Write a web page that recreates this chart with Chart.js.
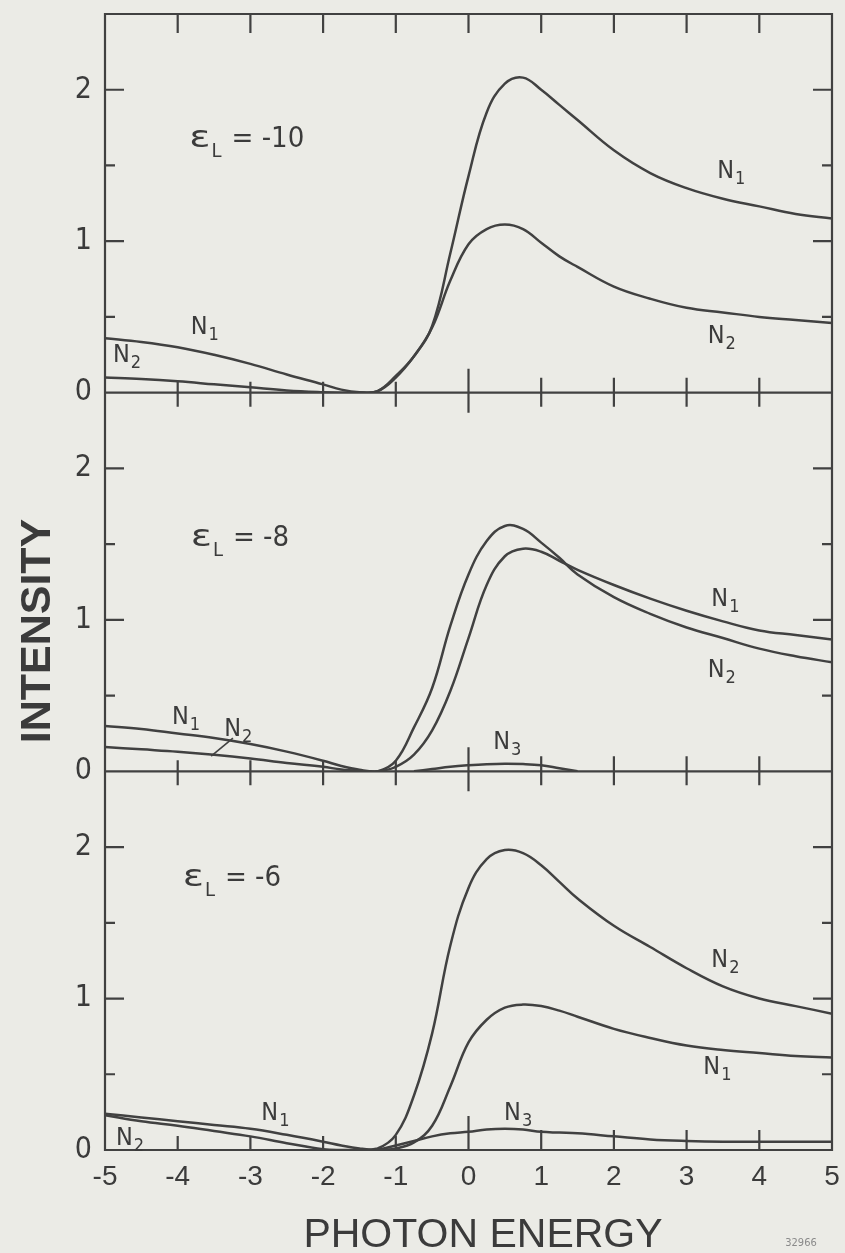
<!DOCTYPE html>
<html>
<head>
<meta charset="utf-8">
<script src="https://cdn.jsdelivr.net/npm/chart.js@4.4.1/dist/chart.umd.min.js"></script>
<style>
  html, body { margin: 0; padding: 0; background: #ebebe6; }
  #wrap { position: relative; width: 845px; height: 1253px; }
  canvas { display: block; }
</style>
</head>
<body>
<div id="wrap"><canvas id="c" width="845" height="1253"></canvas></div>
<script>
// ---------------- data ----------------
const energy = [-5, -4.5, -4, -3.5, -3, -2.5, -2, -1.75, -1.5, -1.25, -1, -0.75, -0.5, -0.25, 0, 0.25, 0.5, 0.75, 1, 1.25, 1.5, 2, 2.5, 3, 3.5, 4, 4.5, 5];

// panel eps_L = -10
const topN1 = [0.36, 0.335, 0.30, 0.25, 0.19, 0.12, 0.055, 0.02, 0.003, 0.01, 0.11, 0.24, 0.44, 0.92, 1.43, 1.85, 2.04, 2.08, 2.00, 1.90, 1.80, 1.60, 1.45, 1.35, 1.28, 1.23, 1.18, 1.15];
const topN2 = [0.10, 0.09, 0.075, 0.055, 0.035, 0.015, 0.003, 0.0, 0.0, 0.01, 0.10, 0.24, 0.43, 0.74, 0.98, 1.08, 1.11, 1.08, 0.99, 0.90, 0.83, 0.70, 0.62, 0.56, 0.53, 0.50, 0.48, 0.46];

// panel eps_L = -8
const midN1 = [0.30, 0.28, 0.25, 0.22, 0.18, 0.13, 0.07, 0.035, 0.01, 0.0, 0.03, 0.11, 0.27, 0.53, 0.88, 1.23, 1.42, 1.47, 1.45, 1.39, 1.33, 1.23, 1.14, 1.06, 0.99, 0.93, 0.90, 0.87];
const midN2 = [0.16, 0.145, 0.13, 0.11, 0.085, 0.055, 0.03, 0.012, 0.003, 0.0, 0.07, 0.29, 0.55, 0.96, 1.30, 1.52, 1.62, 1.60, 1.51, 1.41, 1.30, 1.15, 1.04, 0.95, 0.88, 0.81, 0.76, 0.72];
const midN3 = [null, null, null, null, null, null, null, null, null, null, null, 0, 0.015, 0.03, 0.04, 0.047, 0.05, 0.048, 0.04, 0.02, 0, null, null, null, null, null, null, null];

// panel eps_L = -6
const botN1 = [0.24, 0.215, 0.19, 0.165, 0.14, 0.10, 0.055, 0.03, 0.01, 0.0, 0.01, 0.05, 0.16, 0.42, 0.71, 0.86, 0.94, 0.96, 0.95, 0.92, 0.88, 0.80, 0.74, 0.69, 0.66, 0.64, 0.62, 0.61];
const botN2 = [0.23, 0.19, 0.16, 0.125, 0.09, 0.045, 0.005, 0.0, 0.0, 0.01, 0.10, 0.36, 0.77, 1.35, 1.73, 1.92, 1.98, 1.96, 1.88, 1.77, 1.66, 1.48, 1.34, 1.20, 1.08, 1.00, 0.95, 0.90];
const botN3 = [null, null, null, null, null, null, null, null, null, 0, 0.03, 0.06, 0.09, 0.11, 0.12, 0.135, 0.14, 0.135, 0.12, 0.115, 0.11, 0.09, 0.07, 0.06, 0.055, 0.055, 0.055, 0.055];

const panelLevels = ['-10', '-8', '-6'];
const xTickValues = [-5, -4, -3, -2, -1, 0, 1, 2, 3, 4, 5];
const yTickLabels = ['0', '1', '2'];
const xTitle = 'PHOTON ENERGY';
const yTitle = 'INTENSITY';
const figureNumber = '32966';

// ---------------- styles ----------------
const INK = '#414141';
const TXT = '#3b3b3b';
const NARROW = "'Liberation Sans Narrow', 'DejaVu Sans Condensed', 'Liberation Sans', sans-serif";
const WIDE = "'Liberation Sans', 'DejaVu Sans', sans-serif";

function series(values, axisId) {
  return {
    data: energy.map((x, i) => ({ x: x, y: values[i] })),
    yAxisID: axisId,
    borderColor: INK,
    borderWidth: 2.5,
    pointRadius: 0,
    fill: false,
    spanGaps: false,
    tension: 0.4,
    cubicInterpolationMode: 'default'
  };
}

// curve labels, placed in data coordinates of their panel
const curveLabels = [
  { axis: 'yTop', x: 3.42, y: 1.42, main: 'N', sub: '1' },
  { axis: 'yTop', x: 3.29, y: 0.33, main: 'N', sub: '2' },
  { axis: 'yTop', x: -3.82, y: 0.39, main: 'N', sub: '1' },
  { axis: 'yTop', x: -4.89, y: 0.20, main: 'N', sub: '2' },
  { axis: 'yMid', x: 3.34, y: 1.09, main: 'N', sub: '1' },
  { axis: 'yMid', x: 3.29, y: 0.62, main: 'N', sub: '2' },
  { axis: 'yMid', x: -4.08, y: 0.31, main: 'N', sub: '1' },
  { axis: 'yMid', x: -3.36, y: 0.23, main: 'N', sub: '2' },
  { axis: 'yMid', x: 0.34, y: 0.15, main: 'N', sub: '3' },
  { axis: 'yBot', x: 3.34, y: 1.21, main: 'N', sub: '2' },
  { axis: 'yBot', x: 3.23, y: 0.50, main: 'N', sub: '1' },
  { axis: 'yBot', x: -2.85, y: 0.20, main: 'N', sub: '1' },
  { axis: 'yBot', x: 0.49, y: 0.20, main: 'N', sub: '3' },
  { axis: 'yBot', x: -4.85, y: 0.03, main: 'N', sub: '2' }
];
const levelLabels = [
  { axis: 'yTop', x: -3.84, y: 1.62 },
  { axis: 'yMid', x: -3.82, y: 1.49 },
  { axis: 'yBot', x: -3.93, y: 1.74 }
];

const noPad = (s) => { s.paddingTop = 0; s.paddingBottom = 0; s.paddingLeft = 0; s.paddingRight = 0; };

const yCommon = () => ({
  type: 'linear',
  position: 'left',
  stack: 'panels',
  stackWeight: 1,
  min: 0,
  max: 2.5,
  grid: { display: false, drawTicks: false },
  border: { display: false },
  ticks: {
    stepSize: 0.5,
    padding: 13,
    color: TXT,
    font: { family: NARROW, size: 30 },
    callback: (v) => (Number.isInteger(v) && v <= 2) ? yTickLabels[v] : ''
  },
  afterFit: (s) => { s.width = 105; noPad(s); }
});

const framePlugin = {
  id: 'frame',
  afterDatasetsDraw(chart) {
    const ctx = chart.ctx;
    const area = chart.chartArea;
    const xs = chart.scales.x;
    const panels = ['yTop', 'yMid', 'yBot'].map(id => chart.scales[id]);
    const L = area.left, R = area.right;
    const T = panels[0].getPixelForValue(2.5);
    const B = panels[2].getPixelForValue(0);
    ctx.save();
    ctx.strokeStyle = INK;
    ctx.lineWidth = 2.2;
    ctx.lineCap = 'butt';
    ctx.beginPath();
    ctx.moveTo(L - 1, T); ctx.lineTo(R + 1, T);
    ctx.moveTo(L, T - 1); ctx.lineTo(L, B + 1);
    ctx.moveTo(R, T - 1); ctx.lineTo(R, B + 1);
    panels.forEach((s) => {
      const y0 = s.getPixelForValue(0);
      ctx.moveTo(L, y0); ctx.lineTo(R, y0);
      [0.5, 1, 1.5, 2].forEach((v) => {
        const py = s.getPixelForValue(v);
        const len = Number.isInteger(v) ? 19 : 10;
        ctx.moveTo(L, py); ctx.lineTo(L + len, py);
        ctx.moveTo(R, py); ctx.lineTo(R - len, py);
      });
    });
    for (let v = -4; v <= 4; v++) {
      const px = xs.getPixelForValue(v);
      ctx.moveTo(px, T); ctx.lineTo(px, T + 19);
      for (let k = 0; k < 2; k++) {
        const y0 = panels[k].getPixelForValue(0);
        const up = v === 0 ? 24 : (v > 0 ? 15 : 11);
        const dn = v === 0 ? 20 : 14;
        ctx.moveTo(px, y0 - up); ctx.lineTo(px, y0 + dn);
      }
      const upB = v === 0 ? 34 : (v > 0 ? 20 : 14);
      ctx.moveTo(px, B - upB); ctx.lineTo(px, B);
    }
    ctx.stroke();
    ctx.restore();
  },
  afterDraw(chart) {
    const ctx = chart.ctx;
    const xs = chart.scales.x;
    ctx.save();
    ctx.fillStyle = TXT;
    ctx.textAlign = 'left';
    ctx.textBaseline = 'alphabetic';
    curveLabels.forEach((lb) => {
      const s = chart.scales[lb.axis];
      const px = xs.getPixelForValue(lb.x);
      const py = s.getPixelForValue(lb.y);
      ctx.font = '25px ' + NARROW;
      ctx.fillText(lb.main, px, py);
      const w = ctx.measureText(lb.main).width;
      ctx.font = '18px ' + NARROW;
      ctx.fillText(lb.sub, px + w + 1, py + 6);
    });
    ctx.strokeStyle = INK;
    ctx.lineWidth = 1.6;
    ctx.beginPath();
    ctx.moveTo(xs.getPixelForValue(-3.24), chart.scales.yMid.getPixelForValue(0.22));
    ctx.lineTo(xs.getPixelForValue(-3.54), chart.scales.yMid.getPixelForValue(0.10));
    ctx.stroke();
    levelLabels.forEach((lb, i) => {
      const s = chart.scales[lb.axis];
      let px = xs.getPixelForValue(lb.x);
      const py = s.getPixelForValue(lb.y);
      ctx.font = '30px ' + NARROW;
      const ew = ctx.measureText('\u03B5').width;
      ctx.save();
      ctx.translate(px, py);
      ctx.scale(1.45, 1);
      ctx.fillText('\u03B5', 0, 0);
      ctx.restore();
      px += ew * 1.45 + 1;
      ctx.font = '20px ' + NARROW;
      ctx.fillText('L', px, py + 10);
      px += ctx.measureText('L').width + 10;
      ctx.font = '29px ' + NARROW;
      ctx.fillText('= ' + panelLevels[i], px, py);
    });
    ctx.font = '41px ' + WIDE;
    ctx.textAlign = 'center';
    ctx.fillText(xTitle, 483, 1247);
    ctx.save();
    ctx.translate(50, 631);
    ctx.rotate(-Math.PI / 2);
    ctx.font = 'bold 43px ' + WIDE;
    ctx.textAlign = 'center';
    ctx.fillText(yTitle, 0, 0);
    ctx.restore();
    ctx.fillStyle = '#8a8a8a';
    ctx.font = '11px ' + NARROW;
    ctx.textAlign = 'center';
    ctx.fillText(figureNumber, 801, 1246);
    ctx.restore();
  }
};

new Chart(document.getElementById('c'), {
  type: 'line',
  data: {
    datasets: [
      series(botN1, 'yBot'), series(botN2, 'yBot'), series(botN3, 'yBot'),
      series(midN1, 'yMid'), series(midN2, 'yMid'), series(midN3, 'yMid'),
      series(topN1, 'yTop'), series(topN2, 'yTop')
    ]
  },
  options: {
    responsive: false,
    animation: false,
    events: [],
    layout: { padding: { left: 0, right: 13, top: 14, bottom: 0 } },
    plugins: { legend: { display: false }, tooltip: { enabled: false }, title: { display: false } },
    scales: {
      x: {
        type: 'linear',
        position: 'bottom',
        min: -5,
        max: 5,
        grid: { display: false, drawTicks: false },
        border: { display: false },
        afterBuildTicks: (s) => { s.ticks = xTickValues.map(v => ({ value: v })); },
        ticks: {
          autoSkip: false,
          maxRotation: 0,
          padding: 10,
          color: TXT,
          font: { family: WIDE, size: 28 },
          callback: (v) => String(v)
        },
        afterFit: (s) => { s.height = 103; noPad(s); }
      },
      yBot: yCommon(),
      yMid: yCommon(),
      yTop: yCommon()
    }
  },
  plugins: [framePlugin]
});
</script>
</body>
</html>
